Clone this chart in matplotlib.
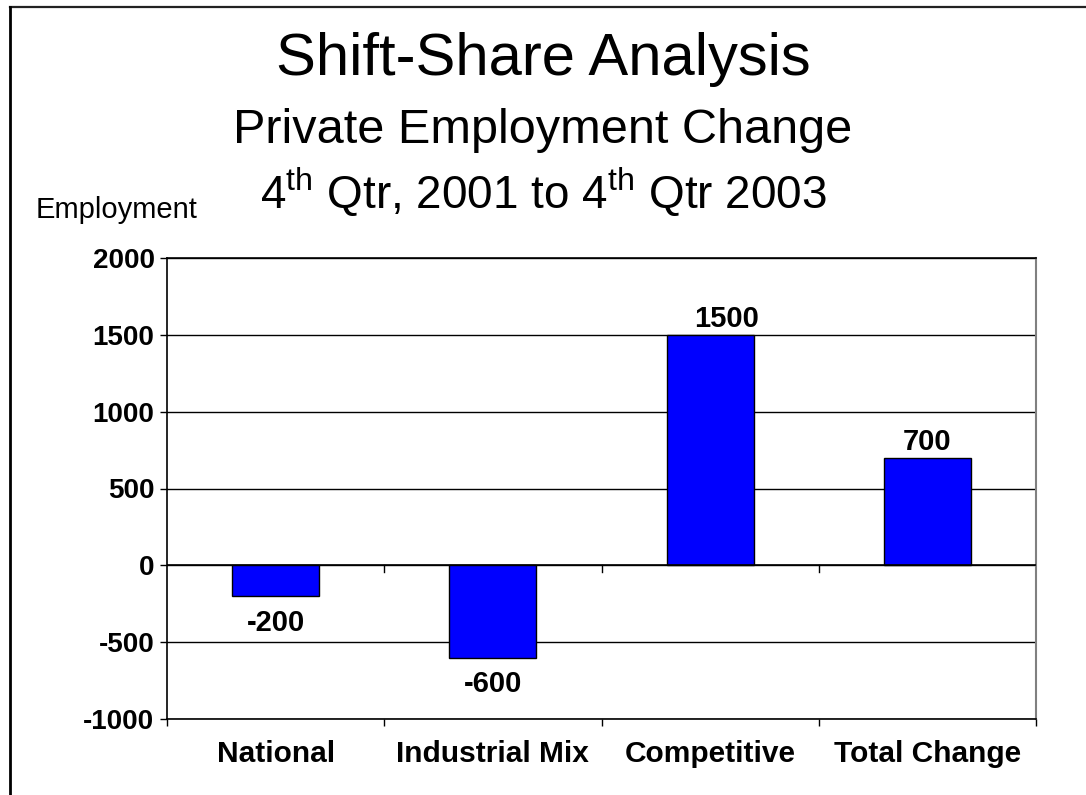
import numpy as np
import matplotlib
matplotlib.use("Agg")
import matplotlib.pyplot as plt
from matplotlib.lines import Line2D

categories = ["National", "Industrial Mix", "Competitive", "Total Change"]
values = [-200, -600, 1500, 700]
y_ticks = [-1000, -500, 0, 500, 1000, 1500, 2000]

plt.rcParams["font.family"] = ["Liberation Sans", "DejaVu Sans"]
plt.rcParams["mathtext.fontset"] = "custom"
plt.rcParams["mathtext.rm"] = "Liberation Sans"

W, H = 1086, 795
fig = plt.figure(figsize=(W / 100, H / 100), dpi=100)
fig.patch.set_facecolor("white")

# frame at top and left of the slide
fig.add_artist(Line2D([10 / W, 1], [1 - 7 / H, 1 - 7 / H], color="#222222", lw=1.6))
fig.add_artist(Line2D([10 / W, 10 / W], [0, 1 - 7 / H], color="black", lw=2.0))

ax = fig.add_axes([167 / W, 1 - 719 / H, (1036 - 167) / W, (719 - 258) / H])

x = np.arange(len(categories))
ax.bar(x, values, width=0.4, color="#0000FF", edgecolor="black", linewidth=1.0, zorder=3)

ax.set_xlim(-0.5, len(categories) - 0.5)
ax.set_ylim(-1000, 2000)
ax.set_yticks(y_ticks)
ax.set_yticklabels([str(v) for v in y_ticks], fontsize=20, fontweight="bold")
for v in y_ticks:
    ax.axhline(v, color="black", lw=1.0, zorder=1)

# category axis crossing at zero
ax.axhline(0, color="black", lw=1.2, zorder=4)
bounds = np.arange(len(categories) + 1) - 0.5
for b in bounds[1:-1]:
    ax.plot([b, b], [0, -45], color="black", lw=1.0, zorder=4, clip_on=False)

ax.set_xticks(x)
ax.set_xticklabels(categories, fontsize=21.5, fontweight="bold")
ax.set_xticks(bounds, minor=True)
ax.tick_params(axis="x", which="major", length=0, pad=15)
ax.tick_params(axis="x", which="minor", length=5, direction="out", width=1.0)
ax.tick_params(axis="y", length=5, direction="out", width=1.0, pad=4)

for s in ["left", "top", "bottom"]:
    ax.spines[s].set_color("black")
    ax.spines[s].set_linewidth(1.2)
ax.spines["right"].set_color("#808080")
ax.spines["right"].set_linewidth(1.5)

for xi, v in zip(x, values):
    if v >= 0:
        dx = 12 if v == 1500 else 0
        ax.annotate(str(v), (xi, v), xytext=(dx, 1), textcoords="offset points",
                    ha="center", va="bottom", fontsize=21, fontweight="bold")
    else:
        ax.annotate(str(v), (xi, v), xytext=(0, -9), textcoords="offset points",
                    ha="center", va="top", fontsize=21, fontweight="bold")

fig.text(0.5, 1 - 75 / H, "Shift-Share Analysis", ha="center", va="baseline", fontsize=43)
fig.text(0.5, 1 - 143 / H, "Private Employment Change", ha="center", va="baseline", fontsize=35)
fig.text(0.5, 1 - 208 / H, r"4$^{\mathrm{th}}$ Qtr, 2001 to 4$^{\mathrm{th}}$ Qtr 2003",
         ha="center", va="baseline", fontsize=33)
fig.text(36 / W, 1 - 218 / H, "Employment", ha="left", va="baseline", fontsize=21)

fig.savefig("out.png", dpi=100)
